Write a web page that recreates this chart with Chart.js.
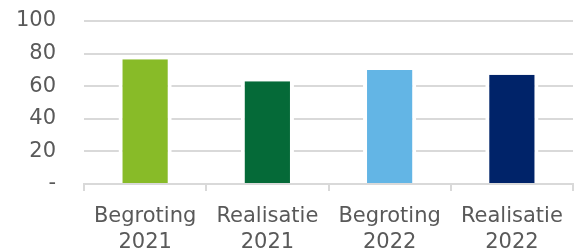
<!DOCTYPE html>
<html lang="nl">
<head>
    <meta charset="UTF-8" />
    <title>Begroting en realisatie</title>
    <script src="https://cdn.jsdelivr.net/npm/chart.js"></script>
    <style>
        html, body {
            margin: 0;
            padding: 0;
            background: #fff;
        }

        .wrap {
            width: 574px;
            height: 250px;
        }
    </style>
</head>
<body>
    <div class="wrap"><canvas id="budgetChart"></canvas></div>

    <script>
        const categories = [
            ['Begroting', '2021'],
            ['Realisatie', '2021'],
            ['Begroting', '2022'],
            ['Realisatie', '2022']
        ];
        const values = [76.5, 63, 70, 67];
        const barColors = ['#88bb28', '#056a38', '#63b5e5', '#002369'];
        const yTicks = [0, 20, 40, 60, 80, 100];

        const textColor = '#595959';
        const gridColor = '#d9d9d9';
        const labelFont = { family: 'DejaVu Sans', size: 21, lineHeight: 1.25 };

        const ctx = document.getElementById('budgetChart').getContext('2d');
        new Chart(ctx, {
            type: 'bar',
            data: {
                labels: categories,
                datasets: [{
                    data: values,
                    backgroundColor: barColors,
                    borderColor: '#ffffff',
                    borderWidth: { left: 4, right: 4, top: 0, bottom: 0 },
                    barPercentage: 0.435,
                    categoryPercentage: 1
                }]
            },
            options: {
                responsive: true,
                maintainAspectRatio: false,
                animation: false,
                layout: {
                    padding: { left: 0, right: 1, top: 21, bottom: 0 }
                },
                plugins: {
                    legend: { display: false },
                    tooltip: { enabled: false }
                },
                scales: {
                    x: {
                        offset: true,
                        grid: {
                            offset: true,
                            drawOnChartArea: false,
                            color: gridColor,
                            lineWidth: 2,
                            tickLength: 7
                        },
                        border: { color: gridColor, width: 2 },
                        ticks: {
                            color: textColor,
                            font: labelFont,
                            padding: 12,
                            maxRotation: 0
                        },
                        afterFit: scale => {
                            scale.height = 66;
                            scale.paddingLeft = 0;
                            scale.paddingRight = 0;
                        }
                    },
                    y: {
                        min: yTicks[0],
                        max: yTicks[yTicks.length - 1],
                        afterBuildTicks: axis => {
                            axis.ticks = yTicks.map(v => ({ value: v }));
                        },
                        grid: {
                            color: gridColor,
                            lineWidth: 2,
                            drawTicks: false
                        },
                        border: { display: false },
                        ticks: {
                            color: textColor,
                            font: labelFont,
                            padding: 28,
                            callback: v => v === 0 ? '-' : v
                        },
                        afterFit: scale => {
                            scale.width = 84;
                            scale.paddingTop = 0;
                            scale.paddingBottom = 0;
                        }
                    }
                }
            }
        });
    </script>
</body>
</html>
